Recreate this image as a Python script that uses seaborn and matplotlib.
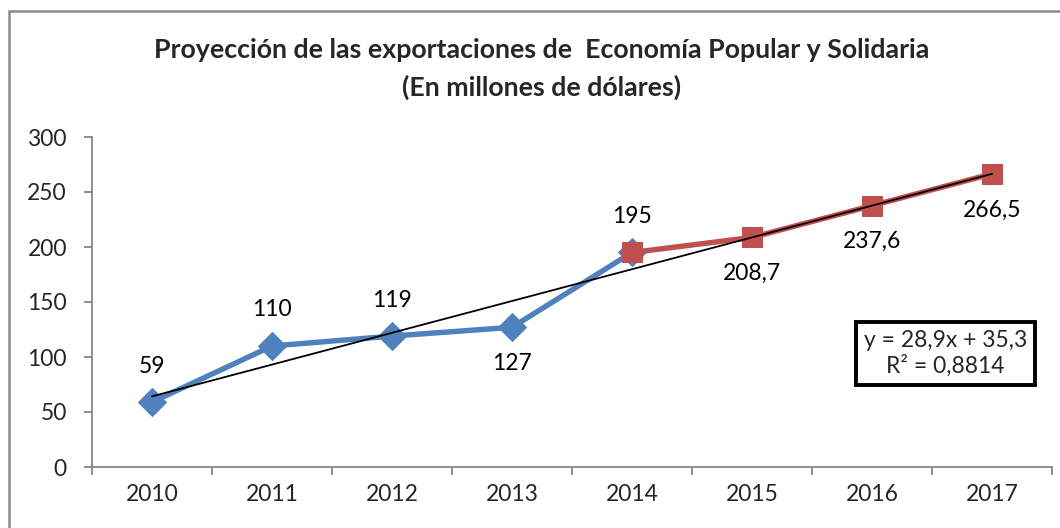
import numpy as np
import pandas as pd
import matplotlib
matplotlib.use("Agg")
import matplotlib.pyplot as plt
import matplotlib.patches as patches
from matplotlib.ticker import FixedLocator
import seaborn as sns

# data
years = ["2010", "2011", "2012", "2013", "2014", "2015", "2016", "2017"]
real = [59, 110, 119, 127, 195]
proj_years = ["2014", "2015", "2016", "2017"]
proj = [195, 208.7, 237.6, 266.5]
labels = ["59", "110", "119", "127", "195", "208,7", "237,6", "266,5"]
label_side = [1, 1, 1, -1, 1, -1, -1, -1]  # 1 = above, -1 = below

sns.set_theme(style="white")
plt.rcParams["font.family"] = ["Lato", "DejaVu Sans"]

axis_col = "#868686"
blue = "#4F81BD"
red = "#C0504D"
fs = 16.5

fig = plt.figure(figsize=(10.6, 5.28), dpi=100)
ax = fig.add_axes([92 / 1060, 61 / 528, 960 / 1060, 330 / 528])

pos = {y: i for i, y in enumerate(years)}
df_real = pd.DataFrame({"x": [pos[y] for y in years[:len(real)]], "v": real})
df_proj = pd.DataFrame({"x": [pos[y] for y in proj_years], "v": proj})

sns.lineplot(data=df_real, x="x", y="v", ax=ax, color=blue, linewidth=3.9,
             marker="D", markersize=14, markeredgecolor=blue, zorder=3)
sns.lineplot(data=df_proj, x="x", y="v", ax=ax, color=red, linewidth=3.9,
             marker="s", markersize=14.5, markeredgecolor=red, zorder=3)

# linear trend over all eight values
all_vals = real[:-1] + proj
t = np.arange(1, len(all_vals) + 1)
slope, intercept = np.polyfit(t, all_vals, 1)
ax.plot(t - 1, slope * t + intercept, color="black", linewidth=1.3, zorder=4)

for i, (v, lab, s) in enumerate(zip(all_vals, labels, label_side)):
    ax.annotate(lab, (i, v), xytext=(0, 36 * s), textcoords="offset pixels",
                ha="center", va="center", fontsize=fs, color="black")

ax.text(0.889, 0.345,
        "y = {:.1f}x + {:.1f}\nR² = 0,8814".format(slope, intercept).replace(".", ","),
        transform=ax.transAxes, ha="center", va="center", fontsize=fs,
        linespacing=1.2,
        bbox=dict(boxstyle="square,pad=0.35", fc="white", ec="black", lw=2.8), zorder=5)

ax.set_xlim(-0.5, len(years) - 0.5)
ax.set_ylim(0, 300)
ax.set_yticks(range(0, 301, 50))
ax.set_xticks(range(len(years)))
ax.set_xticklabels(years)
ax.xaxis.set_minor_locator(FixedLocator(np.arange(-0.5, len(years), 1)))
ax.tick_params(axis="x", which="major", length=0, pad=12, labelsize=fs)
ax.tick_params(axis="x", which="minor", length=6, width=1.3, color=axis_col,
               direction="out", bottom=True)
ax.tick_params(axis="y", length=6, width=1.3, color=axis_col, direction="out",
               left=True, pad=12, labelsize=fs)
ax.set_xlabel("")
ax.set_ylabel("")
for side in ["top", "right"]:
    ax.spines[side].set_visible(False)
for side in ["left", "bottom"]:
    ax.spines[side].set_color(axis_col)
    ax.spines[side].set_linewidth(1.3)
ax.grid(False)

fig.text(542 / 1060, 1 - 50 / 528, "Proyección de las exportaciones de  Economía Popular y Solidaria",
         ha="center", va="center", fontsize=19.3, fontweight="bold")
fig.text(542 / 1060, 1 - 87 / 528, "(En millones de dólares)",
         ha="center", va="center", fontsize=19.3, fontweight="bold")

# outer chart border (runs off the right and bottom edges)
fig.patches.append(patches.Rectangle((9 / 1060, -0.1), 1.2, 1 - 11 / 528 + 0.1,
                                     transform=fig.transFigure, fill=False,
                                     ec="#8c8c8c", lw=1.8))

fig.savefig("out.png", dpi=100)
